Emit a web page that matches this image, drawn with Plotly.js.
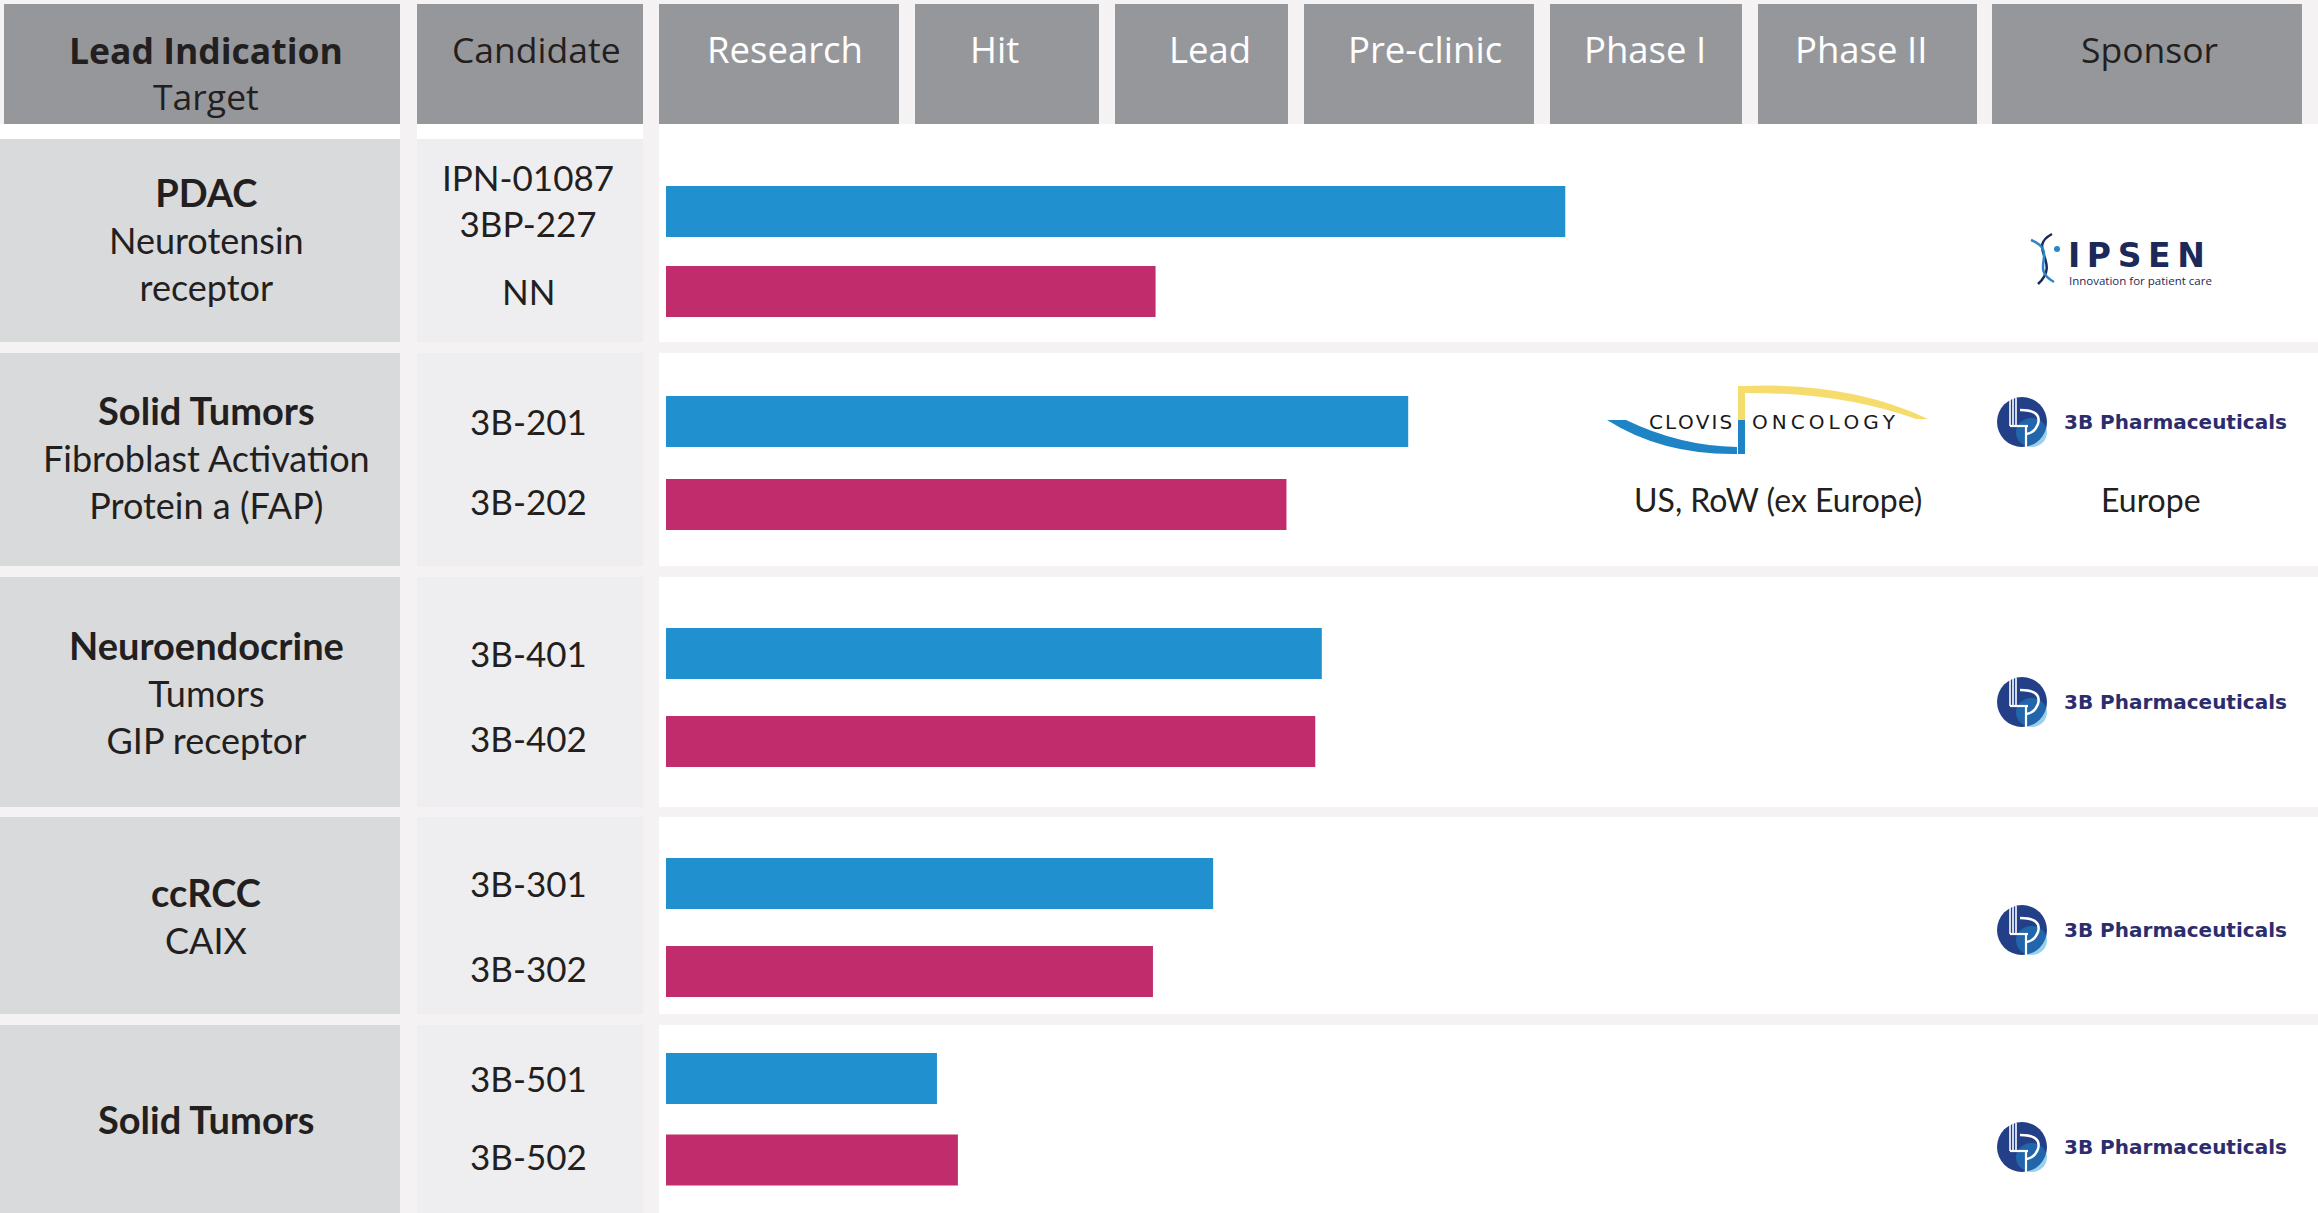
<!DOCTYPE html>
<html>
<head>
<meta charset="utf-8">
<script src="https://cdn.plot.ly/plotly-3.0.1.min.js"></script>
<style>
html,body{margin:0;padding:0;background:#ffffff;}
#chart{width:2318px;height:1213px;}
</style>
</head>
<body>
<div id="chart"></div>
<script>
// ---------------- DATA ----------------
const stages = ["Research", "Hit", "Lead", "Pre-clinic", "Phase I", "Phase II"];
const indications = ["PDAC", "Solid Tumors", "Neuroendocrine", "ccRCC", "Solid Tumors"];
const targets = ["Neurotensin<br>receptor", "Fibroblast Activation<br>Protein a (FAP)", "Tumors<br>GIP receptor", "CAIX", ""];
const candidateA = ["IPN-01087<br>3BP-227", "3B-201", "3B-401", "3B-301", "3B-501"];
const candidateB = ["NN", "3B-202", "3B-402", "3B-302", "3B-502"];
// progress along the pipeline, % of the Research..Phase II span
const progressA = [68.7, 56.7, 50.1, 41.8, 20.7];
const progressB = [37.4, 47.4, 49.6, 37.2, 22.3];
const sponsors = ["IPSEN", "3B Pharmaceuticals", "3B Pharmaceuticals", "3B Pharmaceuticals", "3B Pharmaceuticals"];
const sponsorRegion = ["", "Europe", "", "", ""];
const partner = ["", "CLOVIS ONCOLOGY", "", "", ""];
const partnerRegion = ["", "US, RoW (ex Europe)", "", "", ""];

// ---------------- LAYOUT GEOMETRY (pixels) ----------------
const W = 2318, H = 1213;
const px = x => x / W;
const py = y => 1 - y / H;
const header = [4, 124];
const colLead = [0, 400], colCand = [417, 643];
const stageCols = [[659, 899], [915, 1099], [1115, 1288], [1304, 1534], [1550, 1742], [1758, 1977]];
const stageTextShift = [6, -13, 8, 6, -1, -7];
const colSponsor = [1992, 2302];
const rows = [[139, 342], [353, 566], [577, 807], [817, 1014], [1025, 1213]];
const leadTextShift = [-1, -3, 0, 0, 0];
const seps = [[342, 353], [566, 577], [807, 817], [1014, 1025]];
const barCenters = [[211.5, 291.5], [421.5, 504.5], [653.5, 741.5], [883.5, 971.5], [1078.5, 1160]];
const barPx = 51;
const chartX = [666, 1975];
const sponsorY = [258, 422, 702, 930, 1147];

// ---------------- STYLES ----------------
const BLUE = "#2091ce", PINK = "#c12c6c";
const GAP = "#f4f2f3", HEAD = "#96979b", LEADBG = "#d9dadc", CANDBG = "#eeeef0";
const TXT = "#231f20", NAVY = "#2b2d6e";
const BODYFONT = "Lato, 'Open Sans', sans-serif";
const HEADFONT = "'Open Sans', 'Noto Sans', sans-serif";

const shapes = [];
const annotations = [];
function rect(x0, x1, y0, y1, color, layer) {
  shapes.push({type: "rect", xref: "paper", yref: "paper", x0: px(x0), x1: px(x1), y0: py(y1), y1: py(y0),
    fillcolor: color, line: {width: 0}, layer: layer || "below"});
}
function path(pts, opts) {
  let s = "";
  pts.forEach(p => { s += (typeof p === "string") ? p : (px(p[0]) + "," + py(p[1]) + " "); });
  shapes.push(Object.assign({type: "path", xref: "paper", yref: "paper", path: s, layer: "above"}, opts));
}
function text(x, y, t, size, color, family, extra) {
  annotations.push(Object.assign({xref: "paper", yref: "paper", x: px(x), y: py(y), text: t, showarrow: false,
    xanchor: "center", yanchor: "middle", font: {size: size, color: color, family: family}}, extra || {}));
}

// backgrounds
rect(0, W, 0, header[1], GAP);
rect(colLead[1], colCand[0], 0, H, GAP);
rect(colCand[1], stageCols[0][0], 0, H, GAP);
seps.forEach(s => rect(0, W, s[0], s[1], GAP));
// header boxes
rect(4, colLead[1], header[0], header[1], HEAD);
rect(colCand[0], colCand[1], header[0], header[1], HEAD);
stageCols.forEach(c => rect(c[0], c[1], header[0], header[1], HEAD));
rect(colSponsor[0], colSponsor[1], header[0], header[1], HEAD);
// row cells
rows.forEach(r => {
  rect(colLead[0], colLead[1], r[0], r[1], LEADBG);
  rect(colCand[0], colCand[1], r[0], r[1], CANDBG);
});

// header texts
text((4 + colLead[1]) / 2 + 4, 73, "<b>Lead Indication</b><br>Target", 35.5, TXT, HEADFONT);
text((colCand[0] + colCand[1]) / 2 + 6, 49, "Candidate", 35.5, TXT, HEADFONT);
stages.forEach((s, i) => text((stageCols[i][0] + stageCols[i][1]) / 2 + stageTextShift[i], 49, s, 36.5, "#ffffff", HEADFONT));
text((colSponsor[0] + colSponsor[1]) / 2 + 2, 49, "Sponsor", 35.5, TXT, HEADFONT);

// ---------------- BARS ----------------
const data = [];
const layout = {
  width: W, height: H,
  margin: {l: 0, r: 0, t: 0, b: 0, pad: 0},
  paper_bgcolor: "#ffffff", plot_bgcolor: "rgba(0,0,0,0)",
  showlegend: false, hovermode: false,
  xaxis: {domain: [px(chartX[0]), px(chartX[1])], range: [0, 100], visible: false, fixedrange: true, anchor: "y"}
};
rows.forEach((r, i) => {
  const yk = i === 0 ? "y" : "y" + (i + 1);
  const axName = i === 0 ? "yaxis" : "yaxis" + (i + 1);
  const c1 = barCenters[i][0], c2 = barCenters[i][1], d = c2 - c1;
  layout[axName] = {domain: [py(c2 + d / 2), py(c1 - d / 2)], type: "category",
    categoryorder: "array", categoryarray: [candidateA[i], candidateB[i]],
    range: [1.5, -0.5], visible: false, anchor: "x", fixedrange: true};
  data.push({type: "bar", orientation: "h", x: [progressA[i], progressB[i]], y: [candidateA[i], candidateB[i]],
    xaxis: "x", yaxis: yk, width: barPx / d, marker: {color: [BLUE, PINK], line: {width: 0}}, hoverinfo: "skip"});
  // candidate labels on the bar axis
  annotations.push({xref: "paper", yref: yk, x: px(528), y: 0, text: candidateA[i], showarrow: false,
    xanchor: "center", yanchor: "middle", yshift: i === 0 ? 12 : 1, font: {size: 35, color: TXT, family: BODYFONT}});
  annotations.push({xref: "paper", yref: yk, x: px(528), y: 1, text: candidateB[i], showarrow: false,
    xanchor: "center", yanchor: "middle", yshift: i === 0 ? 1 : 4, font: {size: 35, color: TXT, family: BODYFONT}});
  // lead indication
  const t = "<span style=\"font-size:38px\"><b>" + indications[i] + "</b></span>" + (targets[i] ? "<br>" + targets[i] : "");
  text(206, (r[0] + r[1]) / 2 + leadTextShift[i], t, 36, TXT, BODYFONT);
});

// ---------------- SPONSOR LOGOS (drawn) ----------------
function logo3B(cy) {
  const cx = 2022, r = 25;
  shapes.push({type: "circle", xref: "paper", yref: "paper", x0: px(cx - r), x1: px(cx + r), y0: py(cy + r), y1: py(cy - r),
    fillcolor: "#233f88", line: {width: 0}, layer: "above"});
  shapes.push({type: "circle", xref: "paper", yref: "paper", x0: px(cx - 6), x1: px(cx + r), y0: py(cy + r), y1: py(cy - 4),
    fillcolor: "rgba(30,150,215,0.45)", line: {width: 0}, layer: "above"});
  const wl = {line: {color: "#ffffff", width: 1.6}};
  [-12, -9, -6].forEach(dx => path(["M", [cx + dx, cy - 24], "L", [cx + dx, cy + 4]], wl));
  path(["M", [cx - 12, cy + 4], "L", [cx + 6, cy + 4]], {line: {color: "#ffffff", width: 2.2}});
  path(["M", [cx - 2, cy - 12], "Q", [cx + 20, cy - 12], [cx + 16, cy + 2], "Q", [cx + 12, cy + 12], [cx + 3, cy + 12]], {line: {color: "#ffffff", width: 2.5}});
  path(["M", [cx + 4, cy + 4], "L", [cx + 4, cy + 25]], {line: {color: "#ffffff", width: 2.2}});
  text(2062, cy, "3B Pharmaceuticals", 20, NAVY, "'DejaVu Sans', sans-serif",
    {xanchor: "left", font: {size: 20, color: NAVY, family: "'DejaVu Sans', sans-serif", weight: "bold"}});
}
function logoIpsen(cy) {
  text(2066, cy - 3, "I\u2009P\u2009S\u2009E\u2009N", 33, "#1b2a5a", "'DejaVu Sans', sans-serif",
    {xanchor: "left", font: {size: 33, color: "#1b2a5a", family: "'DejaVu Sans', sans-serif", weight: "bold"}});
  text(2067, cy + 22, "Innovation for patient care", 11.5, "#1b2a5a", "'Open Sans', sans-serif", {xanchor: "left"});
  path(["M", [2052, cy - 24], "C", [2026, cy - 10], [2062, cy + 4], [2038, cy + 26]], {line: {color: "#1b2a5a", width: 2.5}});
  path(["M", [2031, cy - 18], "C", [2060, cy - 6], [2028, cy + 10], [2054, cy + 24]], {line: {color: "#2a86c6", width: 2.5}});
  shapes.push({type: "circle", xref: "paper", yref: "paper", x0: px(2054), x1: px(2060), y0: py(cy - 6), y1: py(cy - 12),
    fillcolor: "#2a86c6", line: {width: 0}, layer: "above"});
}
function logoClovis(cy) {
  path(["M", [1607, cy - 2], "L", [1626, cy - 2], "Q", [1680, cy + 24], [1737, cy + 25], "L", [1737, cy + 32], "Q", [1662, cy + 33], [1607, cy - 2], "Z"],
    {fillcolor: "#1f84c6", line: {width: 0}});
  rect(1738, 1745, cy - 2, cy + 32, "#1f84c6", "above");
  rect(1738, 1745, cy - 36, cy - 2, "#f6dc6c", "above");
  path(["M", [1744, cy - 36], "Q", [1850, cy - 40], [1928, cy - 3], "L", [1916, cy - 3], "Q", [1840, cy - 30], [1744, cy - 29], "Z"],
    {fillcolor: "#f6dc6c", line: {width: 0}});
  text(1734, cy, "C\u200aL\u200aO\u200aV\u200aI\u200aS", 20, "#1a1a1a", "'DejaVu Sans', sans-serif", {xanchor: "right"});
  text(1750, cy, "O\u2009N\u2009C\u2009O\u2009L\u2009O\u2009G\u2009Y", 20, "#1a1a1a", "'DejaVu Sans', sans-serif", {xanchor: "left"});
}
sponsors.forEach((s, i) => {
  if (s === "IPSEN") logoIpsen(sponsorY[i]);
  else logo3B(sponsorY[i]);
  if (sponsorRegion[i]) text(2151, sponsorY[i] + 77, sponsorRegion[i], 32, TXT, BODYFONT);
  if (partner[i]) logoClovis(sponsorY[i]);
  if (partnerRegion[i]) text(1778, sponsorY[i] + 77, partnerRegion[i], 32, TXT, BODYFONT);
});

layout.shapes = shapes;
layout.annotations = annotations;
Plotly.newPlot("chart", data, layout, {displayModeBar: false, staticPlot: true});
</script>
</body>
</html>
